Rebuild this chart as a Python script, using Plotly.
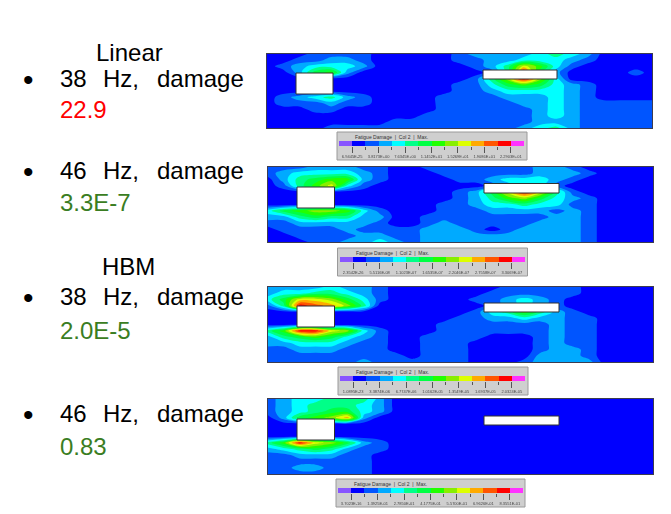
import plotly.graph_objects as go

W, H = 671, 514

LEVEL_COLORS = ["#8855ff", "#0000ff", "#0055ff", "#00aaff", "#00ffff", "#00ff88", "#00ff44",
                "#22ff00", "#88ee00", "#ddff00", "#ffaa00", "#ff5500", "#ff0000", "#ff33ff"]

# Contour band index (1 = deep blue ... 12 = red), 25 columns by 13 rows
linear_38 = [
    [1,1,1,2,2,2,2,1,1,1,1,1,2,3,3,3,3,4,5,4,3,1,1,1,1],
    [1,1,2,2,3,3,2,1,1,1,1,1,2,2,3,3,4,4,4,3,2,1,1,1,1],
    [1,2,3,4,4,4,3,1,1,1,1,1,1,2,3,5,9,7,4,2,1,1,1,1,1],
    [1,1,3,6,7,3,1,1,1,1,1,1,1,1,2,5,12,6,3,1,1,1,1,2,1],
    [1,1,1,1,1,1,1,1,1,1,1,1,1,2,5,8,12,8,4,1,1,1,1,1,1],
    [1,1,1,1,1,1,1,1,1,1,1,1,2,2,4,6,7,6,4,3,2,1,1,1,1],
    [1,1,1,1,1,1,1,1,1,1,1,1,2,2,3,4,4,4,4,3,2,1,1,1,1],
    [1,2,3,4,5,3,2,1,1,1,1,2,2,2,2,3,3,3,4,3,2,1,1,1,1],
    [1,2,2,2,3,2,2,1,1,1,1,2,2,2,2,2,3,3,4,3,2,2,2,2,2],
    [1,1,1,2,2,1,1,1,1,1,1,2,2,2,2,2,2,3,4,3,2,2,2,2,2],
    [1,1,1,1,1,1,1,1,1,1,2,2,2,2,2,2,2,3,4,3,2,2,2,2,2],
    [1,1,1,1,1,1,1,1,2,2,2,2,2,2,2,2,2,3,3,3,2,2,2,2,2],
    [1,1,1,1,2,2,2,2,2,2,2,2,2,2,2,2,3,4,5,3,2,2,2,2,2],
]
linear_46 = [
    [2,2,2,3,3,3,2,2,1,1,2,2,2,2,2,2,2,3,3,2,1,1,1,1,1],
    [2,3,4,4,4,4,3,2,1,1,1,2,2,2,2,2,2,3,3,3,2,1,1,1,1],
    [1,3,5,6,7,7,3,2,1,1,1,1,2,2,3,4,4,4,3,2,1,1,1,1,1],
    [1,2,5,7,9,4,2,1,1,1,1,1,1,1,2,3,4,4,2,1,1,1,1,1,1],
    [1,1,1,1,1,1,1,1,1,1,1,1,2,3,6,9,12,9,5,2,1,1,1,1,1],
    [1,1,1,1,1,1,1,1,1,1,1,1,2,3,5,7,8,6,4,3,2,1,1,1,1],
    [1,1,1,1,1,1,1,1,1,1,1,2,2,3,4,4,5,4,4,2,2,1,1,1,1],
    [4,6,7,8,8,7,4,2,1,1,1,2,2,2,3,3,3,3,2,3,2,1,1,1,1],
    [3,3,5,6,5,5,3,3,1,1,2,2,2,2,2,2,2,2,3,3,2,1,1,1,1],
    [2,2,3,3,3,3,3,2,1,1,2,3,2,2,2,2,2,3,3,3,2,1,1,1,1],
    [1,2,2,2,2,3,2,2,2,2,3,3,3,2,1,2,3,3,3,3,2,1,1,1,1],
    [1,1,2,2,2,2,3,3,2,2,3,3,3,3,3,3,3,3,3,3,2,1,1,1,1],
    [1,1,1,2,2,3,3,4,3,2,3,3,3,3,3,3,3,3,3,3,2,1,1,1,1],
]
hbm_38 = [
    [3,3,3,3,4,3,3,2,1,1,1,1,1,1,1,2,2,2,2,2,1,1,1,1,1],
    [3,4,4,5,5,4,3,2,1,1,1,1,1,1,2,2,2,2,2,2,1,1,1,1,1],
    [4,6,9,9,8,6,4,2,1,1,1,1,1,2,2,3,4,3,2,1,1,1,1,1,1],
    [2,5,12,11,10,8,5,1,1,1,1,1,1,1,2,3,4,3,2,1,1,1,1,1,1],
    [1,1,1,1,1,1,1,1,1,1,1,1,1,2,4,5,7,5,3,2,1,1,1,1,1],
    [1,1,1,1,1,1,1,1,1,1,1,1,2,2,3,3,4,3,3,2,2,1,1,1,1],
    [1,1,1,1,1,1,1,1,1,1,1,2,2,2,2,2,2,2,3,2,2,1,1,1,1],
    [5,7,12,12,9,8,4,2,1,1,1,2,2,2,2,2,2,2,3,2,2,1,1,1,1],
    [3,5,6,7,6,4,3,2,1,1,2,2,2,2,1,1,1,2,3,2,2,1,1,1,1],
    [3,3,4,4,4,3,2,2,1,1,2,2,2,1,1,1,1,2,3,2,2,1,1,1,1],
    [2,2,3,3,3,2,2,2,1,1,2,2,2,1,1,1,1,2,3,3,2,1,1,1,1],
    [2,2,2,2,2,2,2,2,2,1,2,2,2,1,1,1,1,3,3,3,2,1,1,1,1],
    [2,2,2,2,2,2,3,2,2,2,2,2,2,1,1,1,2,3,3,3,3,1,1,1,1],
]
hbm_46 = [
    [2,3,4,4,5,5,5,3,1,1,1,1,1,1,1,1,1,1,1,1,1,1,1,1,1],
    [2,3,4,5,5,5,4,3,1,1,1,1,1,1,1,1,1,1,1,1,1,1,1,1,1],
    [2,3,4,5,6,6,4,3,1,1,1,1,1,1,1,1,1,1,1,1,1,1,1,1,1],
    [1,3,6,7,8,10,3,1,1,1,1,1,1,1,1,1,1,1,1,1,1,1,1,1,1],
    [1,1,1,1,1,1,1,1,1,1,1,1,1,1,1,1,1,1,1,1,1,1,1,1,1],
    [1,1,1,1,1,1,1,1,1,1,1,1,1,1,1,1,1,1,1,1,1,1,1,1,1],
    [1,1,1,1,1,1,1,1,1,1,1,1,1,1,1,1,1,1,1,1,1,1,1,1,1],
    [5,7,12,9,8,6,3,2,1,1,1,1,1,1,1,1,1,1,1,1,1,1,1,1,1],
    [3,4,5,6,5,3,2,2,1,1,1,1,1,1,1,1,1,1,1,1,1,1,1,1,1],
    [2,2,3,3,3,2,2,1,1,1,1,1,1,1,1,1,1,1,1,1,1,1,1,1,1],
    [2,2,2,2,2,2,2,1,1,1,1,1,1,1,1,1,1,1,1,1,1,1,1,1,1],
    [2,2,3,3,2,2,2,1,1,1,1,1,1,1,1,1,1,1,1,1,1,1,1,1,1],
    [2,2,2,2,2,2,2,1,1,1,1,1,1,1,1,1,1,1,1,1,1,1,1,1,1],
]

labels_linear_38 = ["6.9445E-25", "3.8173E+00", "7.6345E+00", "1.1452E+01", "1.5269E+01", "1.9086E+01", "2.2903E+01"]
labels_linear_46 = ["2.3542E-26", "5.5116E-08", "1.1023E-07", "1.6535E-07", "2.2046E-07", "2.7558E-07", "3.3069E-07"]
labels_hbm_38 = ["1.0895E-23", "3.3874E-06", "6.7747E-06", "1.0162E-05", "1.3549E-05", "1.6937E-05", "2.0324E-05"]
labels_hbm_46 = ["3.7023E-16", "1.3925E-01", "2.7850E-01", "4.1775E-01", "5.5700E-01", "6.9626E-01", "8.3551E-01"]

panels = [
    dict(z=linear_38, box=(267, 652, 54, 128), left=(296, 333, 73, 94), right=(483, 557, 70, 79),
         leg=(337, 527, 132, 160), bar=(339, 524, 141, 146), labels=labels_linear_38),
    dict(z=linear_46, box=(267.5, 653, 167, 242), left=(297, 334.5, 187, 208), right=(484, 559, 183.5, 193),
         leg=(337.5, 527.5, 248, 276), bar=(340, 525, 257, 262), labels=labels_linear_46),
    dict(z=hbm_38, box=(267.5, 653, 287, 362), left=(297, 334.5, 306, 327), right=(484, 559, 303, 312),
         leg=(338, 528, 367, 395), bar=(340, 525, 376, 381), labels=labels_hbm_38),
    dict(z=hbm_46, box=(267.5, 653, 399, 474), left=(297, 334.5, 419, 440), right=(484, 559, 416, 425),
         leg=(336, 525, 479, 507), bar=(338, 523, 488, 493), labels=labels_hbm_46),
]

BLACK, RED, GREEN = "#000000", "#ff0000", "#3a7d22"
texts = [
    ("Linear", 96, 53, BLACK), ("38", 60, 78, BLACK), ("Hz,", 103, 78, BLACK), ("damage", 157, 78, BLACK),
    ("22.9", 60, 109, RED),
    ("46", 60, 171, BLACK), ("Hz,", 103, 171, BLACK), ("damage", 157, 171, BLACK),
    ("3.3E-7", 60, 203, GREEN),
    ("HBM", 102, 266, BLACK), ("38", 60, 296, BLACK), ("Hz,", 103, 296, BLACK), ("damage", 157, 296, BLACK),
    ("2.0E-5", 60, 330, GREEN),
    ("46", 60, 413, BLACK), ("Hz,", 103, 413, BLACK), ("damage", 157, 413, BLACK),
    ("0.83", 60, 446, GREEN),
]
bullet_y = [79, 172, 297, 414]

FONT = "Liberation Sans"
px = lambda v: v / W
py = lambda v: 1 - v / H

fig = go.Figure()
layout = dict(width=W, height=H, autosize=False, margin=dict(l=0, r=0, t=0, b=0),
              paper_bgcolor="white", plot_bgcolor="white", showlegend=False)
shapes, annotations = [], []

contour_scale = [[i / 12, c] for i, c in enumerate(LEVEL_COLORS[1:])]
legend_scale = [[i / 13, c] for i, c in enumerate(LEVEL_COLORS)]

n = 1
for p in panels:
    x0, x1, y0, y1 = p["leg"]
    shapes.append(dict(type="rect", xref="paper", yref="paper", x0=px(x0), x1=px(x1), y0=py(y0), y1=py(y1),
                       fillcolor="#cfcfcf", line=dict(color="#9a9a9a", width=1), layer="below"))
    annotations.append(dict(text="Fatigue Damage  |  Col 2  |  Max.", xref="paper", yref="paper",
                            x=px(x0 + 16), y=py(y0 + 5), xanchor="left", yanchor="middle", showarrow=False,
                            font=dict(family=FONT, size=5, color="#333333")))

    xn, yn = f"x{n}", f"y{n}"
    xa, ya = f"xaxis{n}", f"yaxis{n}"
    bx0, bx1, by0, by1 = p["box"]
    layout[xa] = dict(domain=[px(bx0), px(bx1)], range=[0, 24], anchor=yn, showgrid=False, zeroline=False,
                      automargin=False, showticklabels=False, ticks="", showline=True, mirror=True,
                      linecolor="#3c3c50", linewidth=1)
    layout[ya] = dict(domain=[py(by1), py(by0)], range=[12, 0], anchor=xn, showgrid=False, zeroline=False,
                      automargin=False, showticklabels=False, ticks="", showline=True, mirror=True,
                      linecolor="#3c3c50", linewidth=1)
    fig.add_trace(go.Contour(z=p["z"], xaxis=xn, yaxis=yn, colorscale=contour_scale, autocontour=False,
                             contours=dict(start=1.5, end=12.5, size=1, coloring="fill", showlines=False),
                             line=dict(width=0), showscale=False, hoverinfo="skip"))
    for key in ("left", "right"):
        rx0, rx1, ry0, ry1 = p[key]
        shapes.append(dict(type="rect", xref=xn, yref=yn,
                           x0=(rx0 - bx0) / (bx1 - bx0) * 24, x1=(rx1 - bx0) / (bx1 - bx0) * 24,
                           y0=(ry0 - by0) / (by1 - by0) * 12, y1=(ry1 - by0) / (by1 - by0) * 12,
                           fillcolor="white", line=dict(color="#303030", width=1), layer="above"))
    n += 1

    xn, yn = f"x{n}", f"y{n}"
    xa, ya = f"xaxis{n}", f"yaxis{n}"
    cx0, cx1, cy0, cy1 = p["bar"]
    layout[xa] = dict(domain=[px(cx0), px(cx1)], range=[-0.5, 13.5], anchor=yn, showgrid=False, zeroline=False,
                      automargin=False, tickmode="array", tickvals=[0.5, 2.5, 4.5, 6.5, 8.5, 10.5, 12.5],
                      ticktext=p["labels"], tickangle=0,
                      ticks="outside", ticklen=6, tickwidth=1, tickcolor="#555555", showline=False,
                      tickfont=dict(family=FONT, size=4, color="#444444"),
                      minor=dict(tickmode="array", tickvals=[1.5, 3.5, 5.5, 7.5, 9.5, 11.5], ticks="outside",
                                 ticklen=3, tickwidth=1, tickcolor="#555555", showgrid=False))
    layout[ya] = dict(domain=[py(cy1), py(cy0)], anchor=xn, showgrid=False, zeroline=False, automargin=False,
                      showticklabels=False, ticks="", showline=False)
    fig.add_trace(go.Heatmap(z=[list(range(14))], xaxis=xn, yaxis=yn, colorscale=legend_scale, zmin=0, zmax=13,
                             showscale=False, hoverinfo="skip"))
    n += 1

for t, x, y, c in texts:
    annotations.append(dict(text=t, xref="paper", yref="paper", x=px(x), y=py(y), xanchor="left", yanchor="middle",
                            showarrow=False, xshift=-2, font=dict(family=FONT, size=24, color=c)))
for y in bullet_y:
    annotations.append(dict(text="\u2022", xref="paper", yref="paper", x=px(28), y=py(y), xanchor="center",
                            yanchor="middle", showarrow=False, font=dict(family=FONT, size=30, color="#000000")))

layout["shapes"] = shapes
layout["annotations"] = annotations
fig.update_layout(**layout)
fig.write_html("out.html", config={"displayModeBar": False},
               post_script="document.body.style.margin='0';"
                           "document.querySelectorAll('.cartesianlayer').forEach(function(g){g.style.filter='blur(0.5px)';});")
